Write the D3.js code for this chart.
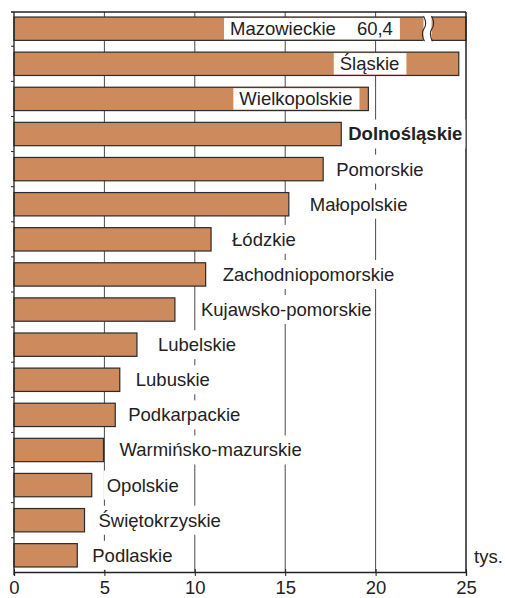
<!DOCTYPE html>
<html>
<head>
<meta charset="utf-8">
<script src="https://cdn.jsdelivr.net/npm/d3@7"></script>
<style>
body { margin: 0; background: #fff; }
svg { font-family: "Liberation Sans", Arial, sans-serif; }
</style>
</head>
<body>
<section></section>
<script>
// voivodeships, thousands
const regions = ["Mazowieckie", "Śląskie", "Wielkopolskie", "Dolnośląskie", "Pomorskie",
    "Małopolskie", "Łódzkie", "Zachodniopomorskie", "Kujawsko-pomorskie", "Lubelskie",
    "Lubuskie", "Podkarpackie", "Warmińsko-mazurskie", "Opolskie", "Świętokrzyskie", "Podlaskie"];
const values = [60.4, 24.6, 19.6, 18.1, 17.1, 15.2, 10.9, 10.6, 8.9, 6.8, 5.85, 5.6, 4.95, 4.3, 3.9, 3.5];
const xTicks = [0, 5, 10, 15, 20, 25];
const unitLabel = "tys.";
const boldRegion = "Dolnośląskie";
const brokenValueLabel = "60,4";

// layout only: label start relative to bar end (px), negative = inside bar
const labelDx = [-236, -119, -129, 7, 13, 21, 21, 17, 26, 21, 16, 13, 16, 15, 14, 15];

const W = 505, H = 598;
const xMax = 25;
const fs = 18.5;

const svg = d3.select('section').append('svg')
    .attr('width', W)
    .attr('height', H);

const x = d3.scaleLinear().domain([0, xMax]).range([14, 466]);
const y = d3.scaleBand().domain(regions).range([12, 572])
    .paddingInner(0.335)
    .paddingOuter(0.143);

const yTop = 12, yBot = 572;

// grid
svg.append('g').selectAll('line').data(xTicks.filter(t => t > 0 && t < xMax))
    .enter().append('line')
    .attr('x1', d => x(d)).attr('x2', d => x(d))
    .attr('y1', yTop).attr('y2', yBot)
    .attr('stroke', '#4a4a4a').attr('stroke-width', 1);

// bars
const bars = svg.append('g');
bars.selectAll('rect').data(values)
    .enter().append('rect')
    .attr('x', x(0))
    .attr('y', (d, i) => y(regions[i]))
    .attr('width', d => x(Math.min(d, xMax)) - x(0))
    .attr('height', y.bandwidth())
    .attr('fill', '#CD8A5D')
    .attr('stroke', '#2b2b2b')
    .attr('stroke-width', 1.2);

// axis break on the first bar
const brk = 22.65, bw = 8;
const b0 = y(regions[0]), bh = y.bandwidth();
const bx = x(brk);
svg.append('rect')
    .attr('x', bx).attr('y', b0 - 2)
    .attr('width', bw).attr('height', bh + 4)
    .attr('fill', '#fff');
function wave(x0) {
    const p = d3.path();
    p.moveTo(x0, b0 - 1);
    p.bezierCurveTo(x0 + 3, b0 + bh * 0.2, x0 + 3, b0 + bh * 0.35, x0 + 0.5, b0 + bh * 0.5);
    p.bezierCurveTo(x0 - 2, b0 + bh * 0.65, x0 - 2, b0 + bh * 0.8, x0 + 1, b0 + bh + 1);
    return p.toString();
}
[bx, bx + bw].forEach(v => {
    svg.append('path').attr('d', wave(v))
        .attr('fill', 'none').attr('stroke', '#2b2b2b').attr('stroke-width', 1.1);
});

// frame: top + right border
svg.append('line').attr('x1', 11).attr('x2', x(xMax)).attr('y1', yTop).attr('y2', yTop)
    .attr('stroke', '#222').attr('stroke-width', 1.3);
svg.append('line').attr('x1', x(xMax)).attr('x2', x(xMax)).attr('y1', yTop).attr('y2', yBot)
    .attr('stroke', '#222').attr('stroke-width', 1.5);

// left axis with ticks between bands
svg.append('line').attr('x1', x(0)).attr('x2', x(0)).attr('y1', yTop).attr('y2', yBot + 3)
    .attr('stroke', '#222').attr('stroke-width', 1.3);
const gap = y.step() * y.paddingInner();
svg.append('g').selectAll('line').data(regions.slice(1))
    .enter().append('line')
    .attr('x1', x(0) - 3).attr('x2', x(0))
    .attr('y1', d => y(d) - gap / 2).attr('y2', d => y(d) - gap / 2)
    .attr('stroke', '#222').attr('stroke-width', 1);

// bottom axis
const xAxis = d3.axisBottom(x).tickValues(xTicks).tickSize(4);
const gx = svg.append('g')
    .attr('transform', `translate(0, ${yBot})`)
    .call(xAxis);
gx.select('.domain').attr('stroke', '#222').attr('stroke-width', 1.3);
gx.selectAll('.tick line').attr('stroke', '#222').attr('y1', -3);
gx.selectAll('.tick text')
    .attr('y', 22)
    .attr('dy', 0)
    .attr('font-size', fs)
    .attr('font-family', '"Liberation Sans", Arial, sans-serif')
    .attr('fill', '#222');

svg.append('text')
    .attr('x', 474).attr('y', 563)
    .attr('font-size', fs).attr('fill', '#222')
    .text(unitLabel);

// labels with white backgrounds
const lab = svg.append('g');
regions.forEach((r, i) => {
    const end = x(Math.min(values[i], xMax));
    const inside = labelDx[i] < 0;
    const cy = y(r) + y.bandwidth() / 2;
    const g = lab.append('g');
    const bg = g.append('rect').attr('fill', '#fff');
    const t = g.append('text')
        .attr('x', end + labelDx[i])
        .attr('y', cy)
        .attr('dy', '0.35em')
        .attr('font-size', fs)
        .attr('fill', '#222')
        .attr('font-weight', r == boldRegion ? 'bold' : 'normal');
    t.append('tspan').text(r);
    if (values[i] > xMax) {
        t.append('tspan').attr('dx', 21).text(brokenValueLabel);
    }
    const bb = t.node().getBBox();
    const bhh = inside ? y.bandwidth() - 2 : 29;
    bg.attr('x', bb.x - (inside ? 6 : 3))
        .attr('width', bb.width + (inside ? 13 : 6))
        .attr('y', cy - bhh / 2)
        .attr('height', bhh);
});
</script>
</body>
</html>
